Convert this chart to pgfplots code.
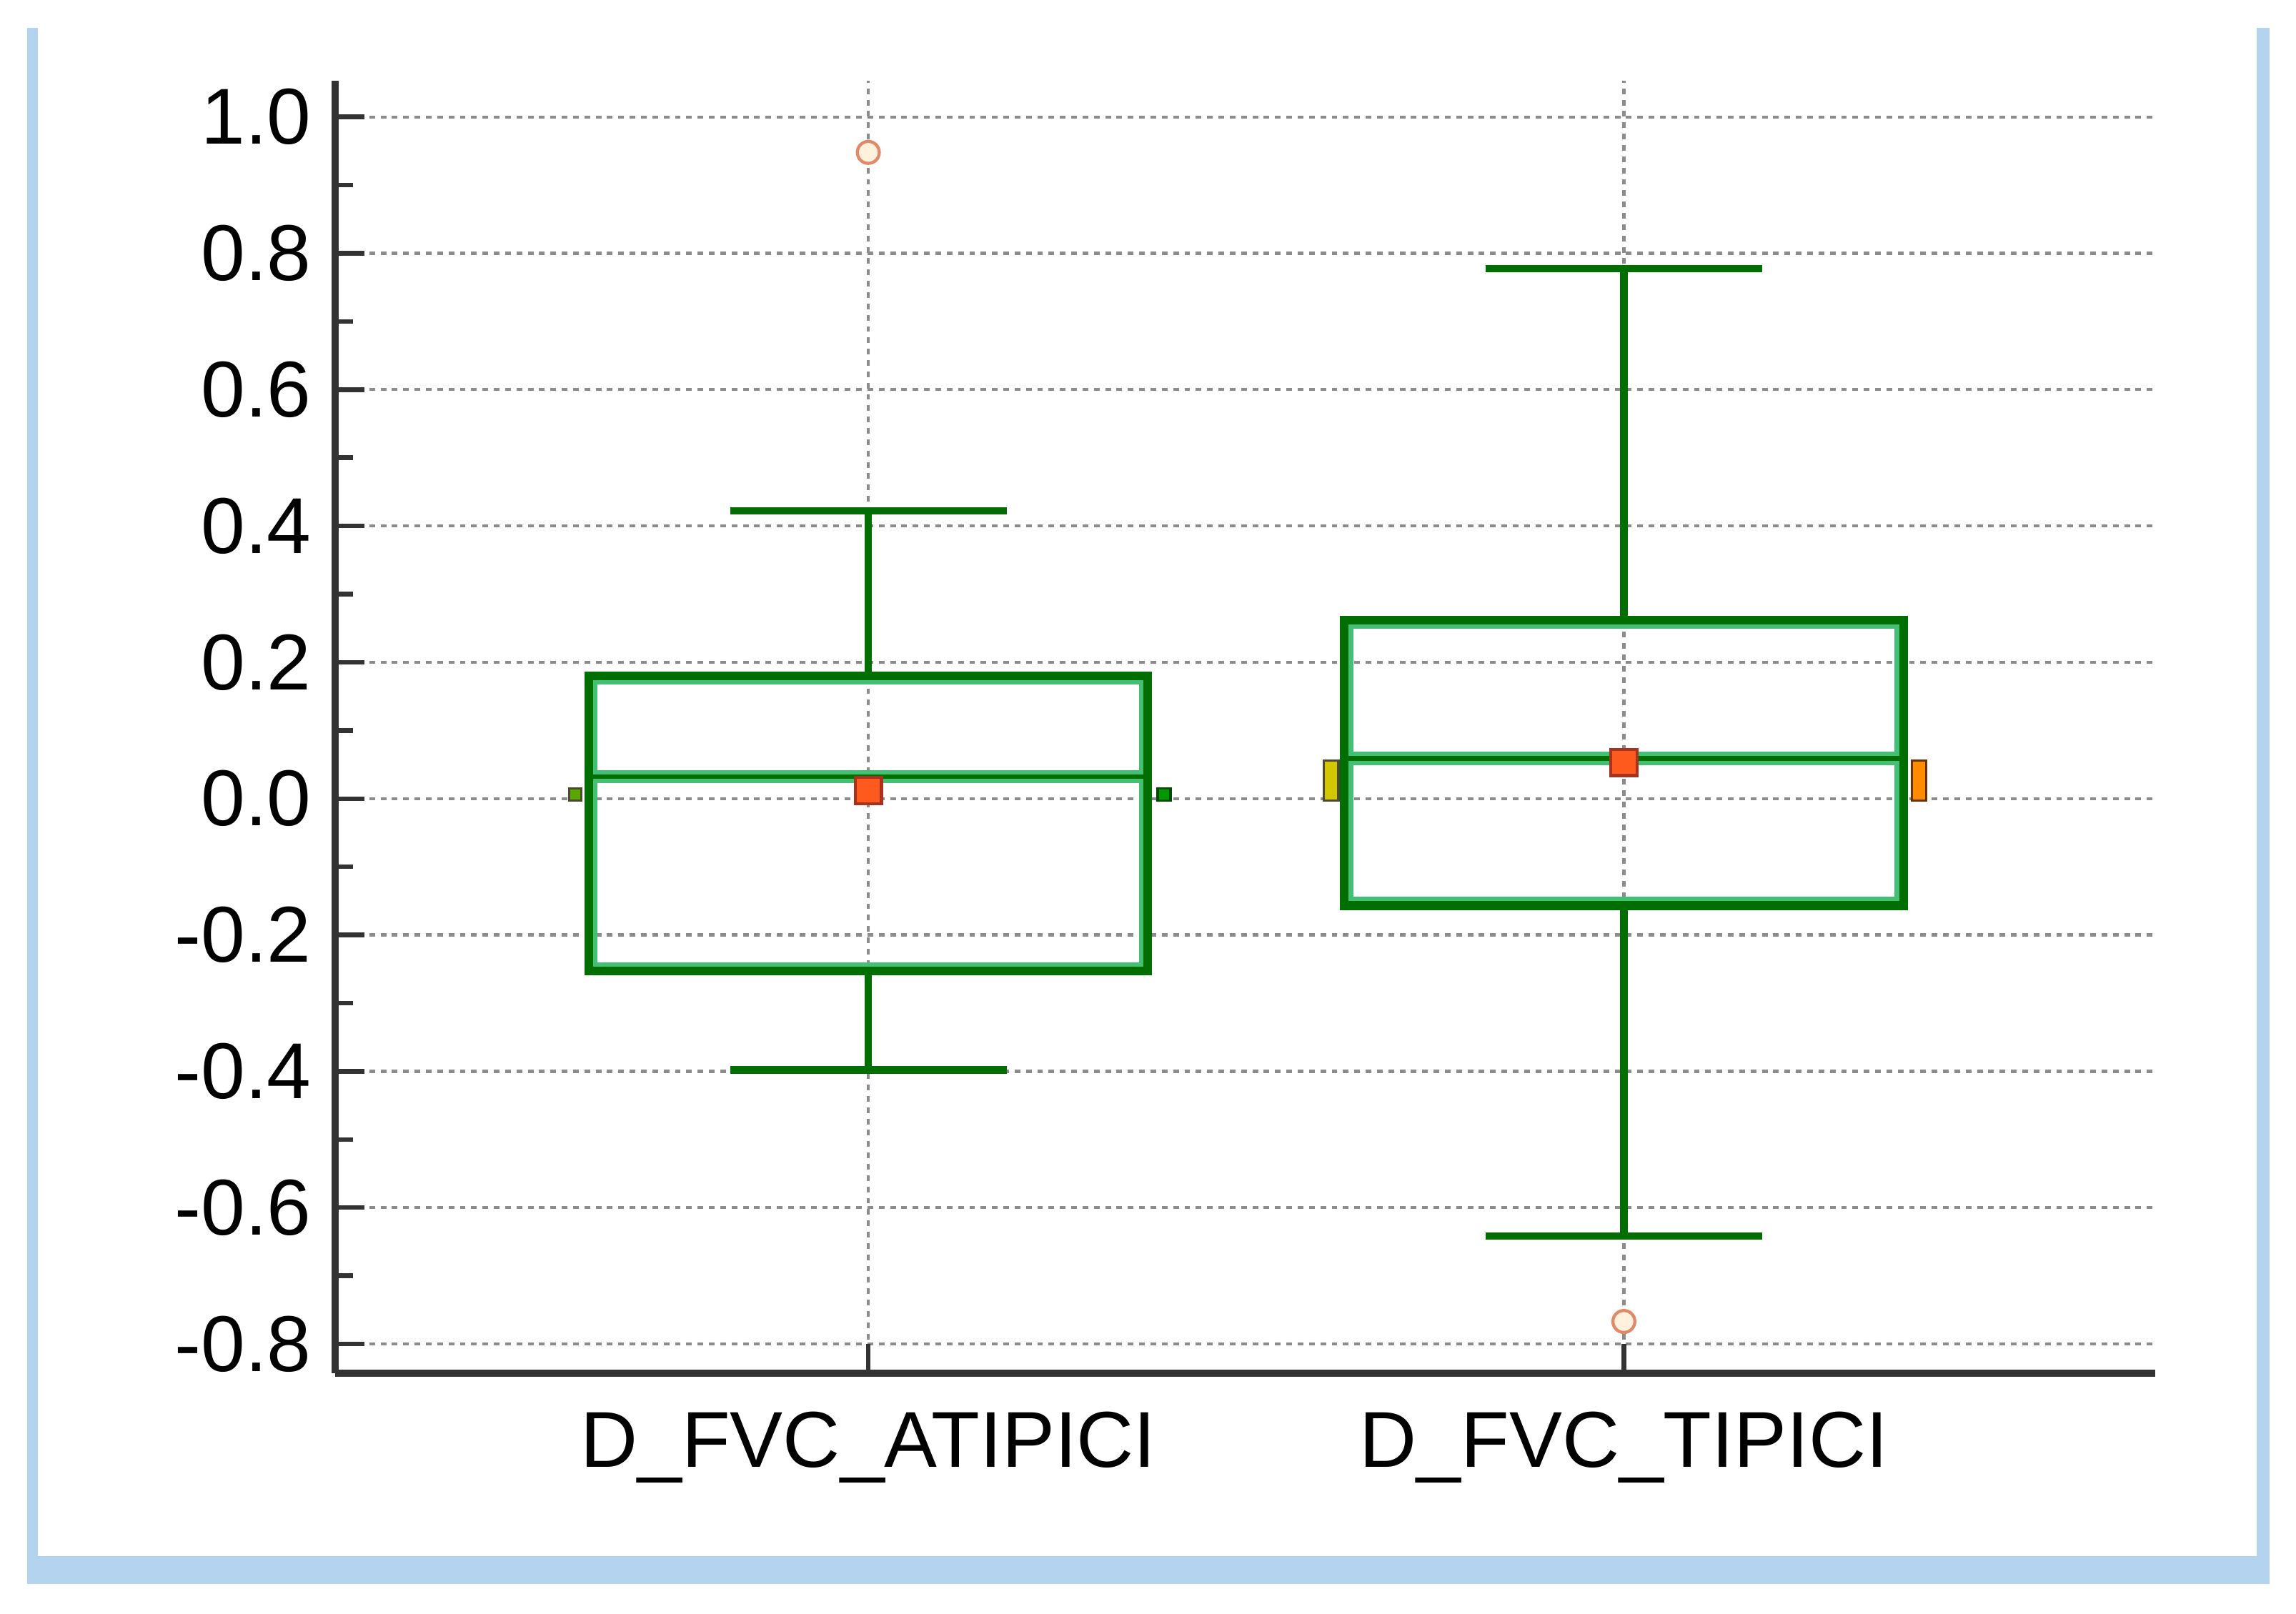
\documentclass[border=0pt]{standalone}
\usepackage{fontspec}
\setmainfont{Liberation Sans}
\usepackage{pgfplots}
\pgfplotsset{compat=1.18}
\usepgfplotslibrary{statistics}

\definecolor{boxdark}{HTML}{006E00}
\definecolor{boxlight}{HTML}{44C074}
\definecolor{axisgray}{HTML}{333333}
\definecolor{gridgray}{HTML}{8C8C8C}
\definecolor{meanfill}{HTML}{FF5A1E}
\definecolor{meandraw}{HTML}{A83220}
\definecolor{outdraw}{HTML}{E08A6A}
\definecolor{outfill}{HTML}{FFF1DC}
\definecolor{framecol}{HTML}{B4D3EF}

% mean marker: square with its own colours (the boxplot average ignores mark options)
\pgfdeclareplotmark{meansq}{%
  \pgfsetfillcolor{meanfill}\pgfsetstrokecolor{meandraw}\pgfsetlinewidth{0.6pt}%
  \pgfpathrectangle{\pgfqpoint{-\pgfplotmarksize}{-\pgfplotmarksize}}%
    {\pgfqpoint{2\pgfplotmarksize}{2\pgfplotmarksize}}%
  \pgfusepathqfillstroke}

\begin{document}
\begin{tikzpicture}
\path[use as bounding box] (-2.29,-1.64) rectangle (13.39,9.38);
% light blue frame round the figure
\fill[framecol] (-2.105,-1.44) rectangle (-2.03,9.19);
\fill[framecol] (13.12,-1.44) rectangle (13.21,9.19);
\fill[framecol] (-2.105,-1.44) rectangle (13.21,-1.25);

\begin{axis}[
    at={(0,0)}, anchor=south west,
    scale only axis,
    width=12.43cm, height=8.828cm,
    xmin=0.2946, xmax=2.7035,
    ymin=-0.843, ymax=1.053,
    axis x line=bottom, axis y line=left,
    axis line style={-, draw=axisgray, line width=1.4pt},
    tick align=inside,
    xtick={1,2},
    xticklabels={D\_FVC\_ATIPICI, D\_FVC\_TIPICI},
    ytick={-0.8,-0.6,-0.4,-0.2,0,0.2,0.4,0.6,0.8,1.0},
    minor y tick num=1,
    major tick length=0.2cm, minor tick length=0.12cm,
    tick style={draw=axisgray, line width=0.9pt},
    xmajorgrids, ymajorgrids,
    major grid style={gridgray, line width=0.6pt, dash pattern=on 1.1pt off 1.1pt},
    tick label style={font=\fontsize{15.4}{18}\selectfont, black},
    /pgf/number format/assume math mode=true,
    yticklabel style={/pgf/number format/fixed, /pgf/number format/fixed zerofill,
        /pgf/number format/precision=1, xshift=-0.04cm},
    xticklabel style={yshift=-0.14cm},
    boxplot/draw direction=y,
    boxplot/every box/.style={draw=boxdark, line width=0.06cm,
        preaction={clip, postaction={draw=boxlight, line width=0.12cm}}},
    boxplot/every median/.style={draw=boxlight, double=boxdark,
        line width=0.03cm, double distance=0.03cm,
        shorten <=0.03cm, shorten >=0.03cm},
    boxplot/every whisker/.style={draw=boxdark, line width=1.4pt},
    boxplot/every average/.style={/tikz/mark=meansq, /tikz/mark size=0.09cm},
]

% D_FVC_ATIPICI
\addplot[boxplot prepared={draw position=1,
        lower whisker=-0.398, lower quartile=-0.253, median=0.032,
        upper quartile=0.180, upper whisker=0.422, average=0.012,
        box extend=0.74, whisker extend=0.366},
    draw=boxdark, mark=*, mark size=0.075cm,
    mark options={draw=outdraw, fill=outfill, line width=0.6pt}]
    table[row sep=\\, y index=0] {y\\ 0.948\\};

% D_FVC_TIPICI
\addplot[boxplot prepared={draw position=2,
        lower whisker=-0.642, lower quartile=-0.157, median=0.059,
        upper quartile=0.262, upper whisker=0.777, average=0.053,
        box extend=0.74, whisker extend=0.366},
    draw=boxdark, mark=*, mark size=0.075cm,
    mark options={draw=outdraw, fill=outfill, line width=0.6pt}]
    table[row sep=\\, y index=0] {y\\ -0.767\\};

% small markers at the sides of the boxes
\addplot[fill=green!30!olive, draw=black!60!olive, line width=0.5pt]
    coordinates {(0.604,-0.003) (0.620,-0.003) (0.620,0.015) (0.604,0.015)} --cycle;
\addplot[fill=green!60!black, draw=black!70!green, line width=0.5pt]
    coordinates {(1.383,-0.003) (1.400,-0.003) (1.400,0.015) (1.383,0.015)} --cycle;
\addplot[fill=yellow!60!olive, draw=black!60!olive, line width=0.5pt]
    coordinates {(1.603,-0.003) (1.622,-0.003) (1.622,0.056) (1.603,0.056)} --cycle;
\addplot[fill=orange!90!yellow, draw=black!60!orange, line width=0.5pt]
    coordinates {(2.381,-0.003) (2.400,-0.003) (2.400,0.056) (2.381,0.056)} --cycle;

\end{axis}
\end{tikzpicture}
\end{document}
